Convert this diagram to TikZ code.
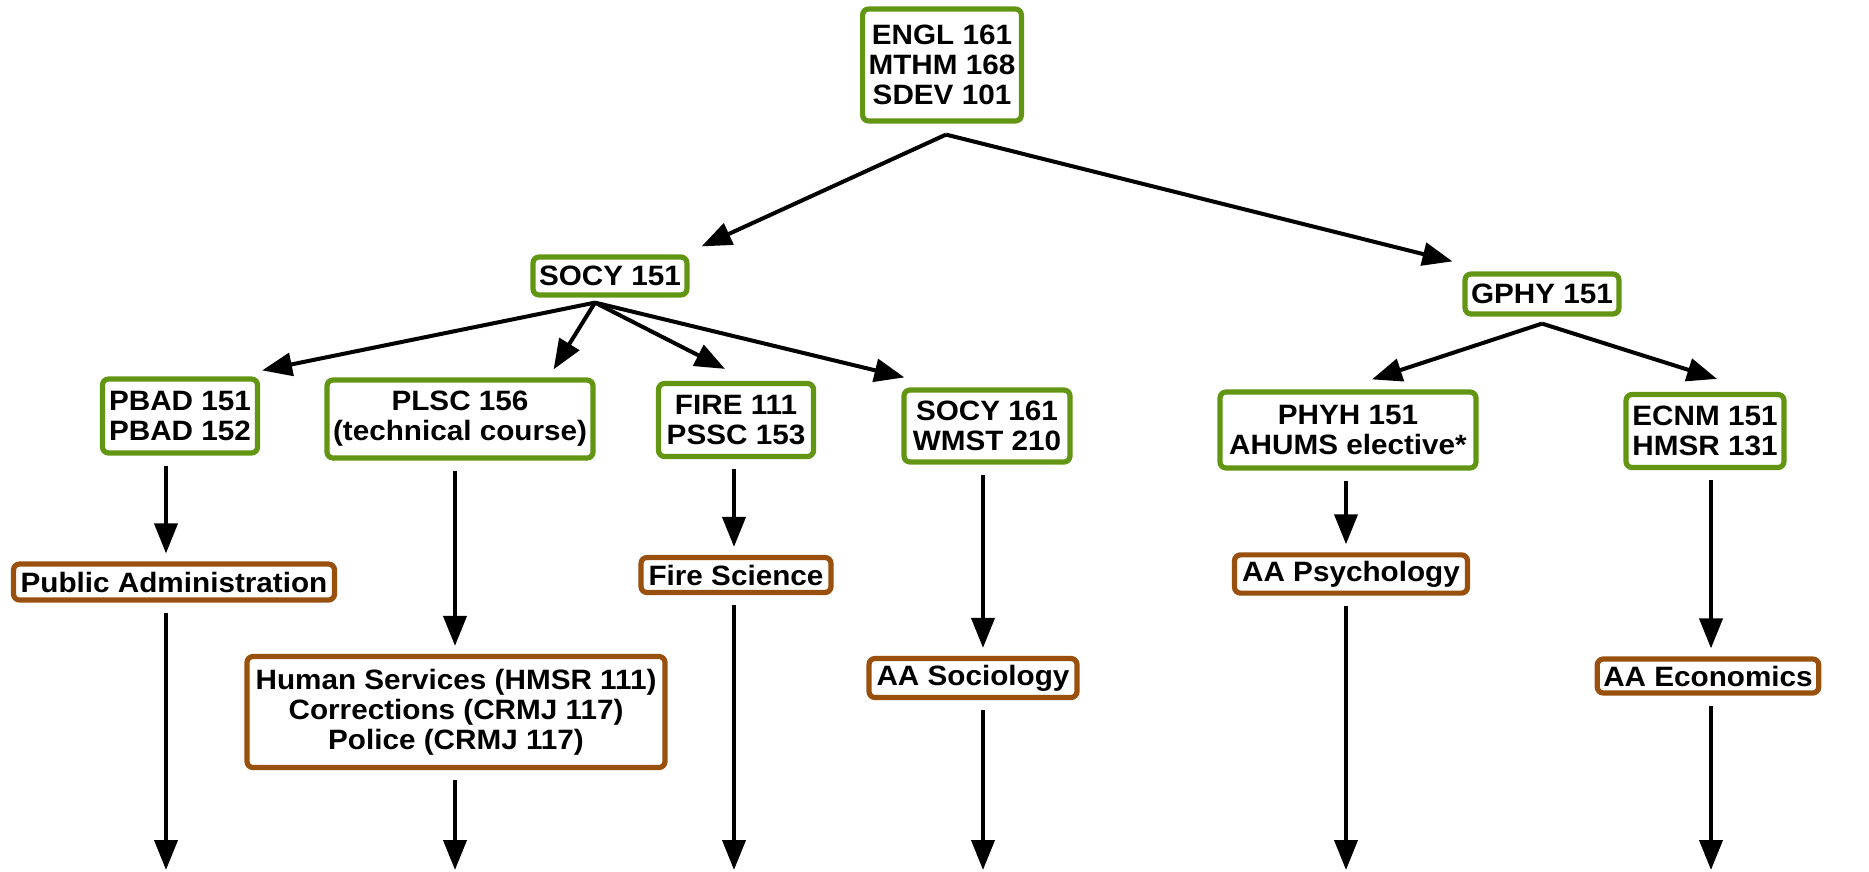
\documentclass[tikz,border=0pt]{standalone}
\usepackage{fontspec}
\setmainfont{Liberation Sans}[FakeStretch=1.06]
\usetikzlibrary{arrows.meta}
\definecolor{courseGreen}{RGB}{98,150,18}
\definecolor{majorBrown}{RGB}{152,80,12}
\tikzset{
  >={Triangle[length=15pt,width=11.5pt]},
  font=\fontsize{14}{15}\selectfont\bfseries,
  box/.style={draw,fill=white,line width=2.6pt,rounded corners=3pt,align=center,inner sep=3pt},
  course/.style={box,draw=courseGreen},
  major/.style={box,draw=majorBrown},
  line/.style={draw,->,line width=2pt},
  drop/.style={line,shorten <=5pt,shorten >=4pt},
}

\begin{document}
\begin{tikzpicture}[x=0.5pt,y=-0.5pt]
  \useasboundingbox (0,0) rectangle (1869,872);
  % courses
  \node (top) [course,minimum width=78pt,minimum height=56pt] at (942,65) {ENGL 161\\MTHM 168\\SDEV 101};
  \node (socy) [course,minimum width=75.5pt,minimum height=19pt] at (610,276) {SOCY 151};
  \node (gphy) [course,minimum width=74.5pt,minimum height=20pt] at (1542,294) {GPHY 151};
  \node (pbad) [course,minimum width=77.5pt,minimum height=37pt] at (180,416) {PBAD 151\\PBAD 152};
  \node (plsc) [course,minimum width=131.5pt,minimum height=39pt] at (460,419) {PLSC 156\\(technical course)};
  \node (fire) [course,minimum width=77.5pt,minimum height=36.5pt] at (736,420) {FIRE 111\\PSSC 153};
  \node (soc161) [course,minimum width=83pt,minimum height=36pt] at (987,426) {SOCY 161\\WMST 210};
  \node (phyh) [course,minimum width=128pt,minimum height=38pt] at (1348,430) {PHYH 151\\AHUMS elective*};
  \node (ecnm) [course,minimum width=79pt,minimum height=36.5pt] at (1705,431) {ECNM 151\\HMSR 131};
  % majors
  \node (pubadm) [major,minimum width=160.5pt,minimum height=18pt] at (174,582) {Public Administration};
  \node (humserv) [major,minimum width=209pt,minimum height=55.5pt] at (456,712) {Human Services (HMSR 111)\\Corrections (CRMJ 117)\\Police (CRMJ 117)};
  \node (firesci) [major,minimum width=95pt,minimum height=17.5pt] at (736,575) {Fire Science};
  \node (aasoc) [major,minimum width=104pt,minimum height=19.5pt] at (973,678) {AA Sociology};
  \node (aapsy) [major,minimum width=116.5pt,minimum height=19pt] at (1351,574) {AA Psychology};
  \node (aaecon) [major,minimum width=106.5pt,minimum height=17pt] at (1708,676) {AA Economics};

  % forks and open ends
  \coordinate (topfork) at ([xshift=2pt,yshift=-5.5pt]top.south);
  \coordinate (socyfork) at ([xshift=-7.5pt,yshift=-2.5pt]socy.south);
  \coordinate (gphyfork) at ([yshift=-3.5pt]gphy.south);
  \coordinate (endA) at (166,870);
  \coordinate (endB) at (455,870);
  \coordinate (endC) at (734,870);
  \coordinate (endD) at (983,870);
  \coordinate (endE) at (1346,870);
  \coordinate (endF) at (1711,870);

  \path [line] (topfork) -- ([xshift=6pt,yshift=4pt]socy.north east);
  \path [line] (topfork) -- ([xshift=-5pt,yshift=5pt]gphy.north west);
  \path [line] (socyfork) -- ([xshift=1pt,yshift=3pt]pbad.north east);
  \path [line] (socyfork) -- ([xshift=-21pt,yshift=4pt]plsc.north east);
  \path [line] (socyfork) -- ([xshift=-5.5pt,yshift=6pt]fire.north);
  \path [line] (socyfork) -- ([xshift=1.5pt,yshift=5pt]soc161.north west);
  \path [line] (gphyfork) -- ([xshift=12pt,yshift=5pt]phyh.north);
  \path [line] (gphyfork) -- ([xshift=6pt,yshift=6.5pt]ecnm.north);

  \path [drop] (pbad.south -| endA) -- (pubadm.north -| endA);
  \path [drop] (plsc.south -| endB) -- (humserv.north -| endB);
  \path [drop] (fire.south -| endC) -- (firesci.north -| endC);
  \path [drop] (soc161.south -| endD) -- (aasoc.north -| endD);
  \path [drop] (phyh.south -| endE) -- (aapsy.north -| endE);
  \path [drop] (ecnm.south -| endF) -- (aaecon.north -| endF);

  \path [line,shorten <=5pt] (pubadm.south -| endA) -- (endA);
  \path [line,shorten <=5pt] (humserv.south -| endB) -- (endB);
  \path [line,shorten <=5pt] (firesci.south -| endC) -- (endC);
  \path [line,shorten <=5pt] (aasoc.south -| endD) -- (endD);
  \path [line,shorten <=5pt] (aapsy.south -| endE) -- (endE);
  \path [line,shorten <=5pt] (aaecon.south -| endF) -- (endF);
\end{tikzpicture}
\end{document}
